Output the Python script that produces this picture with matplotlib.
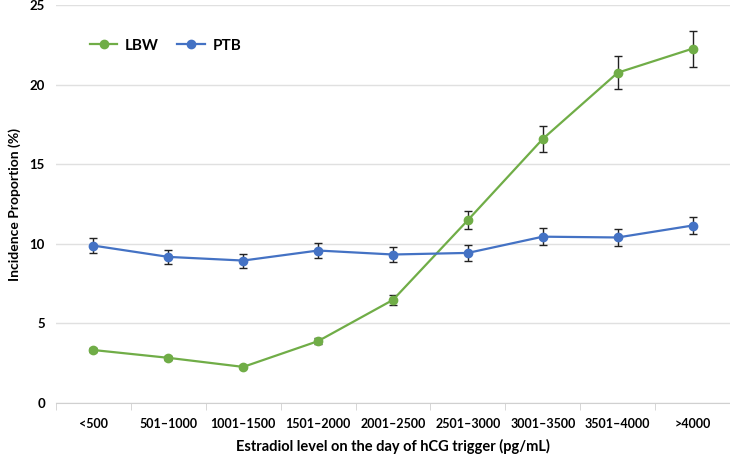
import matplotlib
matplotlib.use('Agg')
import matplotlib.pyplot as plt
from matplotlib.lines import Line2D
import numpy as np

plt.rcParams['font.family'] = ['Lato', 'DejaVu Sans']

categories = ['<500', '501\u20131000', '1001\u20131500', '1501\u20132000', '2001\u20132500',
              '2501\u20133000', '3001\u20133500', '3501\u20134000', '>4000']
lbw = [3.33, 2.84, 2.27, 3.89, 6.48, 11.49, 16.59, 20.75, 22.26]
lbw_err = [0.15, 0.12, 0.1, 0.2, 0.33, 0.57, 0.8, 1.04, 1.13]
ptb = [9.89, 9.18, 8.95, 9.58, 9.33, 9.43, 10.45, 10.4, 11.15]
ptb_err = [0.48, 0.45, 0.44, 0.5, 0.47, 0.5, 0.52, 0.53, 0.56]

green = '#70AD47'
blue = '#4472C4'

fig = plt.figure(figsize=(7.3, 4.58), dpi=100)
ax = fig.add_axes([0.0767, 0.12, 0.9233, 0.869])

x = np.arange(len(categories))
ax.errorbar(x, lbw, yerr=lbw_err, color=green, marker='o', ms=6, lw=1.6,
            ecolor='#222222', elinewidth=1, capsize=3, capthick=1, zorder=3)
ax.errorbar(x, ptb, yerr=ptb_err, color=blue, marker='o', ms=6, lw=1.6,
            ecolor='#222222', elinewidth=1, capsize=3, capthick=1, zorder=3)

ax.set_xlim(-0.5, len(categories) - 0.5)
ax.set_ylim(0, 25)
ax.set_yticks([0, 5, 10, 15, 20, 25])
ax.set_xticks(x)
ax.set_xticklabels(categories)
ax.set_xticks(np.arange(-0.5, len(categories), 1), minor=True)
ax.tick_params(axis='x', which='major', length=0, pad=11, labelsize=9)
ax.tick_params(axis='x', which='minor', length=5, color='#d0d0d0')
ax.tick_params(axis='y', length=0, pad=8, labelsize=9.5)
for lab in ax.get_xticklabels() + ax.get_yticklabels():
    lab.set_fontweight('bold')

ax.grid(axis='y', color='#e0e0e0', lw=1)
ax.set_axisbelow(True)
for s in ['top', 'right', 'left']:
    ax.spines[s].set_visible(False)
ax.spines['bottom'].set_color('#d0d0d0')

ax.set_xlabel('Estradiol level on the day of hCG trigger (pg/mL)', fontsize=10.5,
              fontweight='bold', labelpad=6)
ax.set_ylabel('Incidence Proportion (%)', fontsize=10, fontweight='bold', labelpad=6)

handles = [Line2D([], [], color=green, marker='o', ms=6, lw=1.6),
           Line2D([], [], color=blue, marker='o', ms=6, lw=1.6)]
leg = ax.legend(handles, ['LBW', 'PTB'], loc='upper left', bbox_to_anchor=(0.03, 0.95),
                ncol=2, frameon=False, fontsize=11, handlelength=1.8,
                columnspacing=1.2, handletextpad=0.5)
for t in leg.get_texts():
    t.set_fontweight('bold')

fig.savefig('out.png', dpi=100)
